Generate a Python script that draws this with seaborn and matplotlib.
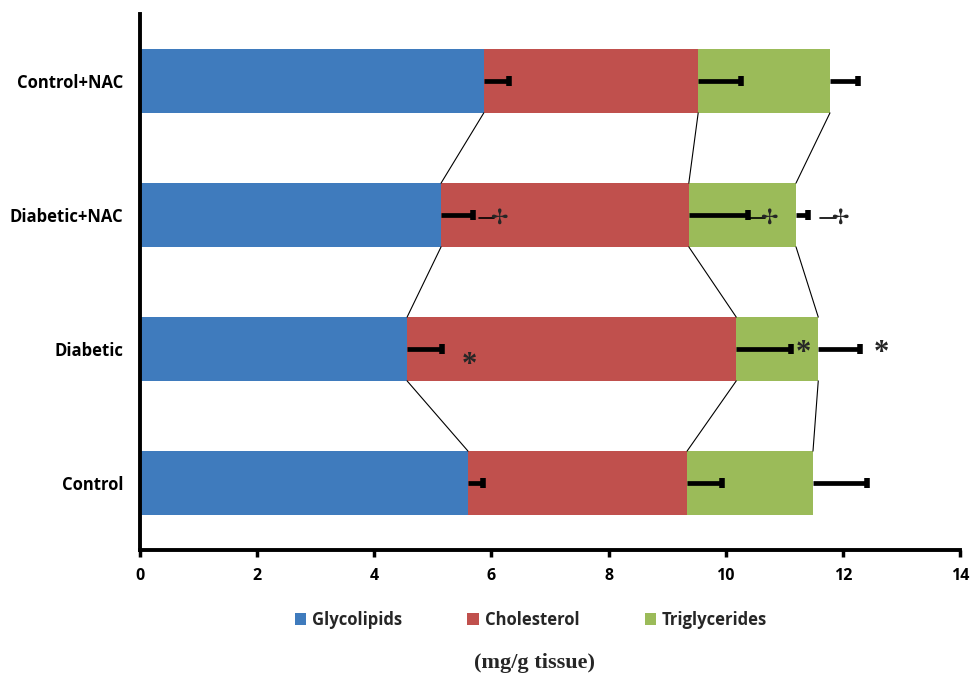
import matplotlib
matplotlib.use("Agg")
import matplotlib.pyplot as plt
import seaborn as sns
import numpy as np
import pandas as pd
from matplotlib.patches import Patch

# Groups, top to bottom
groups = ["Control+NAC", "Diabetic+NAC", "Diabetic", "Control"]

# Lipid content (mg/g tissue) per group
glycolipids = [5.87, 5.14, 4.56, 5.60]
cholesterol = [3.66, 4.23, 5.62, 3.74]
triglycerides = [2.25, 1.83, 1.40, 2.15]

# Standard errors (positive side only)
glycolipids_err = [0.43, 0.55, 0.60, 0.26]
cholesterol_err = [0.73, 1.01, 0.93, 0.60]
triglycerides_err = [0.48, 0.20, 0.71, 0.92]

series_names = ["Glycolipids", "Cholesterol", "Triglycerides"]
colors = ["#3F7BBD", "#C0504D", "#9BBB59"]

# Significance marks: (x, group) positions
star_marks = [(5.63, 2.12), (11.32, 2.03), (12.65, 2.03)]
dagger_marks = [(6.12, 1.02), (10.74, 1.02), (11.95, 1.02)]

xticks = [0, 2, 4, 6, 8, 10, 12, 14]

sns.set_style("white")
plt.rcParams["font.family"] = ["Open Sans", "DejaVu Sans"]
label_font = {"family": "Open Sans", "weight": "bold"}

fig = plt.figure(figsize=(9.71, 6.82), dpi=100)
ax = fig.add_axes([140 / 971, 1 - 550 / 682, 820 / 971, 536 / 682])

g = np.array(glycolipids)
c = np.array(cholesterol)
t = np.array(triglycerides)
cum = [g, g + c, g + c + t]
errs = [glycolipids_err, cholesterol_err, triglycerides_err]

bar_h = 0.476
# stacked bars: draw cumulative totals from the outermost segment inward
for k in [2, 1, 0]:
    df = pd.DataFrame({"group": groups, "value": cum[k]})
    sns.barplot(data=df, x="value", y="group", orient="h", color=colors[k],
                width=bar_h, saturation=1, ax=ax, errorbar=None,
                linewidth=0, zorder=2)

# one-sided error bars at the end of each segment
for k in range(3):
    ends = cum[k] + np.array(errs[k])
    ypos = np.arange(len(groups))
    ax.hlines(ypos, cum[k], ends, colors="black", lw=3.4, zorder=4)
    ax.plot(ends, ypos, ls="none", marker="|", markersize=7,
            markeredgewidth=4, color="black", zorder=4)

# series lines joining segment boundaries of adjacent bars
for k in range(3):
    for i in range(len(groups) - 1):
        ax.plot([cum[k][i], cum[k][i + 1]], [i + bar_h / 2, i + 1 - bar_h / 2],
                color="black", lw=0.8, zorder=3)

for x, y in star_marks:
    ax.text(x, y, "*", ha="center", va="center", fontsize=22, fontweight="bold",
            fontfamily="Liberation Serif", zorder=5)
for x, y in dagger_marks:
    ax.plot([x - 0.34, x - 0.07], [y, y], color="black", lw=1.2, zorder=5)
    ax.text(x, y, "\u2722", ha="center", va="center", fontsize=15,
            fontfamily="DejaVu Sans", zorder=5)

ax.set_xlim(0, 14)
ax.set_ylim(3.5, -0.5)
ax.set_xticks(xticks)
ax.set_xticklabels([str(v) for v in xticks], fontsize=11.5, **label_font)
ax.set_yticks(range(len(groups)))
ax.set_yticklabels(groups, fontsize=12, **label_font)
ax.set_xlabel("")
ax.set_ylabel("")

for side in ["top", "right"]:
    ax.spines[side].set_visible(False)
for side in ["left", "bottom"]:
    ax.spines[side].set_linewidth(2.8)
    ax.spines[side].set_color("black")
ax.tick_params(axis="x", which="major", direction="out", length=5, width=2.5,
               bottom=True, pad=8, colors="black")
ax.tick_params(axis="y", length=0, pad=12, colors="black")

handles = [Patch(facecolor=col, edgecolor="none") for col in colors]
fig.legend(handles, series_names, loc="center", bbox_to_anchor=(531 / 971, 1 - 620 / 682),
           ncol=3, frameon=False, prop={"family": "Open Sans", "weight": "bold", "size": 12},
           handlelength=0.7, handleheight=0.7, handletextpad=0.35, columnspacing=3.9)

fig.text(534 / 971, 1 - 663 / 682, "(mg/g tissue)", ha="center", va="center",
         fontsize=16, fontweight="bold", fontfamily="Liberation Serif")

fig.savefig("out.png", dpi=100, facecolor="white")
